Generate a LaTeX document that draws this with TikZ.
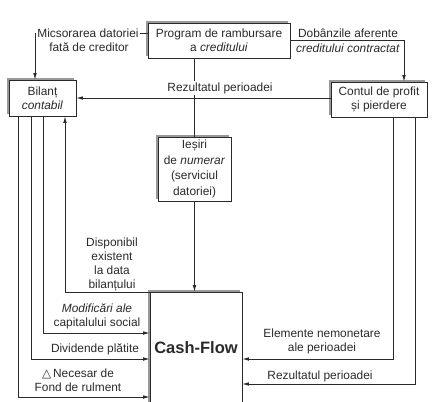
\documentclass[tikz,border=0pt]{standalone}
\usepackage{fontspec}
\setmainfont{Liberation Sans}
\newfontfamily\dejavu{DejaVu Sans}
\usetikzlibrary{arrows.meta,shadows,calc}
\definecolor{ink}{HTML}{2A2A2A}
\begin{document}
\begin{tikzpicture}[x=1pt,y=-1pt,
  every node/.style={text=ink},
  txt/.style={font=\fontsize{11.9}{14}\selectfont, align=center, inner sep=1pt},
  lbl/.style={txt, fill=white},
  box/.style={txt, draw=ink, line width=0.7pt, fill=white, inner sep=0pt,
    general shadow={fill=black!40, shadow xshift=-2pt, shadow yshift=2pt}},
  conn/.style={draw=ink, line width=0.8pt},
  arr/.style={conn, -{Latex[length=6.5pt,width=3.6pt]}}]
\useasboundingbox (0,0) rectangle (432,402);
% boxes
\node[box, minimum width=142pt, minimum height=35pt] (prog) at (219,40.5)
  {Program de rambursare\\a \textit{creditului}};
\node[box, minimum width=67pt, minimum height=36pt] (bil) at (42.5,98)
  {Bilanț\\\textit{contabil}};
\node[box, minimum width=96pt, minimum height=35pt] (cont) at (379,99.5)
  {Contul de profit\\și pierdere};
\node[box, minimum width=73pt, minimum height=64pt, font=\fontsize{11.9}{15.5}\selectfont] (ies) at (194.5,169)
  {Ieșiri\\de \textit{numerar}\\(serviciul\\datoriei)};
\node[box, minimum width=92pt, minimum height=112pt, font=\fontsize{16.5}{19}\selectfont\bfseries] (cf) at (196,348)
  {Cash-Flow};
% coordinates
\coordinate (m1) at (35,33);
\coordinate (d1) at (404,40.5);
\coordinate (p1) at (65,292);
\coordinate (b3) at (43,333);
\coordinate (b2) at (31,359);
\coordinate (b1) at (18,397);
\coordinate (c1) at (393,359);
\coordinate (c2) at (415,384);
% connectors
\draw[arr] (prog.west |- m1) -- (m1) -- (m1 |- bil.north);
\draw[arr] (prog.east) -- (d1) -- (d1 |- cont.north);
\draw[conn] (ies.north |- prog.south) -- (ies.north);
\draw[arr] (cont.west |- bil.east) -- (bil.east);
\draw[arr] (ies.south) -- (ies.south |- cf.north);
\draw[arr] (cf.west |- p1) -- (p1) -- (p1 |- bil.south);
\draw[arr] (bil.south -| b3) -- (b3) -- (cf.west |- b3);
\draw[arr] (bil.south -| b2) -- (b2) -- (cf.west |- b2);
\draw[arr] (bil.south -| b1) -- (b1) -- (cf.west |- b1);
\draw[arr] (cont.south -| c1) -- (c1) -- (cf.east |- c1);
\draw[arr] (cont.south -| c2) -- (c2) -- (cf.east |- c2);
% labels
\node[lbl] (l1) at (88,33) {Micsorarea datoriei};
\node[txt] (l1b) at (89,47) {fată de creditor};
\node[lbl] (l2) at (348,33) {Dobânzile aferente};
\node[txt] (l2b) at (348,48) {\textit{creditului contractat}};
\node[lbl] (l3) at (220,88) {Rezultatul perioadei};
\node[txt] (l4) at (112,264) {Disponibil\\existent\\la data\\bilanțului};
\node[txt] (l5) at (97,316) {\textit{Modificări ale}\\capitalului social};
\node[txt] (l6) at (95,349) {Dividende plătite};
\node[txt] (l7) at (78,380) {{\dejavu △}\,Necesar de\\Fond de rulment};
\node[txt] (l8) at (322,341.5) {Elemente nemonetare\\ale perioadei};
\node[txt] (l9) at (320,376) {Rezultatul perioadei};
\end{tikzpicture}
\end{document}
